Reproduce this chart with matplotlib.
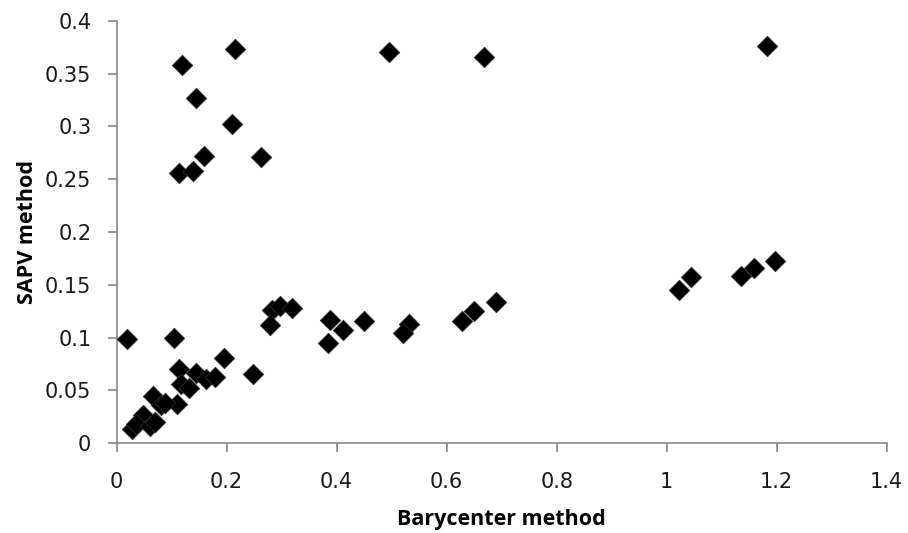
import matplotlib
matplotlib.use("Agg")
import matplotlib.pyplot as plt

# Barycenter method (x) vs SAPV method (y)
x_vals = [0.119, 0.215, 0.495, 0.668, 1.182, 0.145, 0.209, 0.158, 0.262, 0.114, 0.138,
          1.022, 1.044, 1.136, 1.158, 1.197,
          0.449, 0.531, 0.521, 0.628, 0.649, 0.689,
          0.282, 0.297, 0.318, 0.279, 0.387, 0.412, 0.385, 0.248,
          0.018, 0.104, 0.195, 0.113, 0.117, 0.132, 0.145, 0.163, 0.178,
          0.110, 0.066, 0.081, 0.088, 0.048, 0.027, 0.035, 0.060, 0.069]
y_vals = [0.358, 0.373, 0.370, 0.366, 0.376, 0.327, 0.302, 0.272, 0.271, 0.256, 0.258,
          0.145, 0.157, 0.158, 0.166, 0.173,
          0.116, 0.113, 0.104, 0.116, 0.125, 0.134,
          0.126, 0.130, 0.128, 0.112, 0.117, 0.107, 0.095, 0.066,
          0.099, 0.100, 0.081, 0.070, 0.056, 0.052, 0.067, 0.061, 0.063,
          0.037, 0.045, 0.036, 0.038, 0.027, 0.014, 0.018, 0.016, 0.020]

x_ticks = [0, 0.2, 0.4, 0.6, 0.8, 1, 1.2, 1.4]
x_tick_labels = ["0", "0.2", "0.4", "0.6", "0.8", "1", "1.2", "1.4"]
y_ticks = [0, 0.05, 0.1, 0.15, 0.2, 0.25, 0.3, 0.35, 0.4]
y_tick_labels = ["0", "0.05", "0.1", "0.15", "0.2", "0.25", "0.3", "0.35", "0.4"]

plt.rcParams['font.family'] = ['Open Sans', 'DejaVu Sans']

fig = plt.figure(figsize=(9.08, 5.33), dpi=100)
ax = fig.add_axes([0.1285, 0.1683, 0.848, 0.7929])

ax.scatter(x_vals, y_vals, marker='D', s=110, color='black', edgecolors='#333333',
           linewidths=0.5, zorder=3, clip_on=False)

ax.set_xlim(0, 1.4)
ax.set_ylim(0, 0.4)
ax.set_xticks(x_ticks)
ax.set_xticklabels(x_tick_labels, fontfamily='DejaVu Sans')
ax.set_yticks(y_ticks)
ax.set_yticklabels(y_tick_labels, fontfamily='DejaVu Sans')

for s in ['top', 'right']:
    ax.spines[s].set_visible(False)
for s in ['left', 'bottom']:
    ax.spines[s].set_color('#868686')
    ax.spines[s].set_linewidth(1.2)

ax.tick_params(axis='both', direction='out', length=6.3, width=1.2, color='#868686',
               labelsize=15, labelcolor='#1a1a1a')
ax.tick_params(axis='y', pad=12)
ax.tick_params(axis='x', pad=14.5)

ax.set_xlabel('Barycenter method', fontsize=15.5, fontweight='bold', labelpad=12)
ax.set_ylabel('SAPV method', fontsize=15.5, fontweight='bold', labelpad=5)

fig.savefig('out.png', dpi=100)
